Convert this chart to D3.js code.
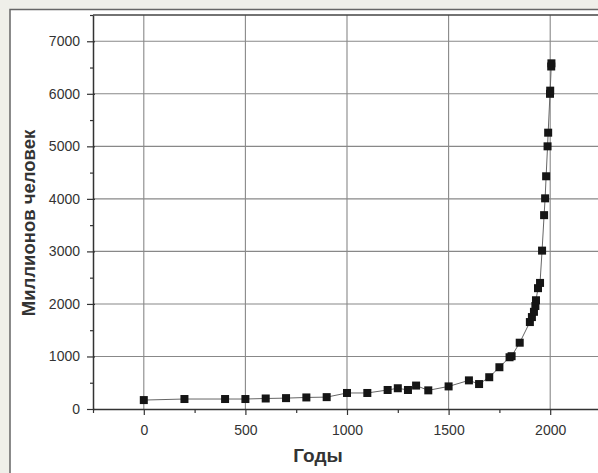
<!DOCTYPE html>
<html>
<head>
<meta charset="utf-8">
<script src="https://cdn.jsdelivr.net/npm/d3@7"></script>
<style>
  body { margin: 0; background: #efefe9; }
  svg { display: block; }
</style>
</head>
<body>
<div id="chart"></div>
<script>
// World population, millions
const years = [0, 200, 400, 500, 600, 700, 800, 900, 1000, 1100, 1200, 1250, 1300, 1340, 1400,
  1500, 1600, 1650, 1700, 1750, 1800, 1810, 1850, 1900, 1910, 1920, 1927, 1930, 1940, 1950,
  1960, 1970, 1975, 1980, 1987, 1990, 1999, 2000, 2005, 2006];
const population = [170, 190, 190, 190, 200, 207, 220, 226, 305, 305, 362, 395, 362, 446, 355,
  430, 545, 475, 605, 795, 985, 1005, 1262, 1655, 1750, 1850, 1960, 2070, 2300, 2400,
  3015, 3690, 4010, 4430, 5000, 5260, 6000, 6060, 6520, 6580];
const xTicks = [0, 500, 1000, 1500, 2000];
const xMinor = [-250, 250, 750, 1250, 1750, 2250];
const yTicks = [0, 1000, 2000, 3000, 4000, 5000, 6000, 7000];
const yMinor = [500, 1500, 2500, 3500, 4500, 5500, 6500, 7500];

const width = 598, height = 473;
const margin = { left: 93, top: 15, right: -3, bottom: 64 };
const font = '"Liberation Sans", Arial, sans-serif';
const textColor = '#333';

const data = years.map((yr, i) => [yr, population[i]]);

const svg = d3.select('#chart').append('svg')
  .attr('width', width)
  .attr('height', height);

// Outer frame
svg.append('rect')
  .attr('x', 10).attr('y', 9.5)
  .attr('width', width + 10).attr('height', height + 10)
  .attr('fill', '#fff')
  .attr('stroke', '#666')
  .attr('stroke-width', 1.5);

const x = d3.scaleLinear().domain([-250, 2250]).range([margin.left, width - margin.right]);
const y = d3.scaleLinear().domain([0, 7500]).range([height - margin.bottom, margin.top]);

const g = svg.append('g');

// Grid lines
g.append('g').attr('class', 'grid-x')
  .selectAll('line').data(xTicks).enter().append('line')
  .attr('x1', d => x(d)).attr('x2', d => x(d))
  .attr('y1', y.range()[0]).attr('y2', y.range()[1])
  .attr('stroke', '#888').attr('stroke-width', 1.1);

g.append('g').attr('class', 'grid-y')
  .selectAll('line').data(yTicks.slice(1)).enter().append('line')
  .attr('x1', x.range()[0]).attr('x2', x.range()[1])
  .attr('y1', d => y(d)).attr('y2', d => y(d))
  .attr('stroke', '#888').attr('stroke-width', 1.1);

// Top border of the plot box
g.append('line')
  .attr('x1', x.range()[0]).attr('x2', x.range()[1])
  .attr('y1', y.range()[1]).attr('y2', y.range()[1])
  .attr('stroke', '#444').attr('stroke-width', 1.5);

// X axis
const xAxis = g.append('g')
  .attr('class', 'axis axis-x')
  .attr('transform', 'translate(0,' + y(0) + ')')
  .call(d3.axisBottom(x).tickValues(xTicks).tickFormat(d3.format('d'))
    .tickSize(6).tickPadding(10).tickSizeOuter(0));

g.append('g')
  .attr('transform', 'translate(0,' + y(0) + ')')
  .call(d3.axisBottom(x).tickValues(xMinor).tickSize(4).tickFormat('').tickSizeOuter(0))
  .select('.domain').remove();

// Y axis
const yAxis = g.append('g')
  .attr('class', 'axis axis-y')
  .attr('transform', 'translate(' + x(-250) + ',0)')
  .call(d3.axisLeft(y).tickValues(yTicks).tickFormat(d3.format('d'))
    .tickSize(6).tickPadding(7).tickSizeOuter(0));

yAxis.selectAll('.tick line').attr('x1', 2);

g.append('g')
  .attr('transform', 'translate(' + x(-250) + ',0)')
  .call(d3.axisLeft(y).tickValues(yMinor).tickSize(3).tickFormat('').tickSizeOuter(0))
  .select('.domain').remove();

svg.selectAll('.axis .domain')
  .attr('stroke', '#333')
  .attr('stroke-width', 1.5);

svg.selectAll('.tick line')
  .attr('stroke', '#333')
  .attr('stroke-width', 1.2);

svg.selectAll('.tick text')
  .attr('fill', textColor)
  .style('font-family', font)
  .style('font-size', '14px');

// Axis titles
svg.append('text')
  .attr('x', 318)
  .attr('y', 462)
  .attr('text-anchor', 'middle')
  .style('font-family', font)
  .style('font-weight', 'bold')
  .style('font-size', '19px')
  .attr('fill', textColor)
  .text('Годы');

svg.append('text')
  .attr('transform', 'translate(35,223) rotate(-90)')
  .attr('text-anchor', 'middle')
  .style('font-family', font)
  .style('font-weight', 'bold')
  .style('font-size', '18.5px')
  .attr('fill', textColor)
  .text('Миллионов человек');

// Line and markers
const line = d3.line()
  .x(d => x(d[0]))
  .y(d => y(d[1]));

g.append('path')
  .datum(data)
  .attr('fill', 'none')
  .attr('stroke', '#666')
  .attr('stroke-width', 1)
  .attr('d', line);

const size = 8;
g.selectAll('.marker')
  .data(data)
  .enter().append('rect')
  .attr('class', 'marker')
  .attr('x', d => x(d[0]) - size / 2)
  .attr('y', d => y(d[1]) - size / 2)
  .attr('width', size)
  .attr('height', size)
  .attr('fill', '#151515');
</script>
</body>
</html>
